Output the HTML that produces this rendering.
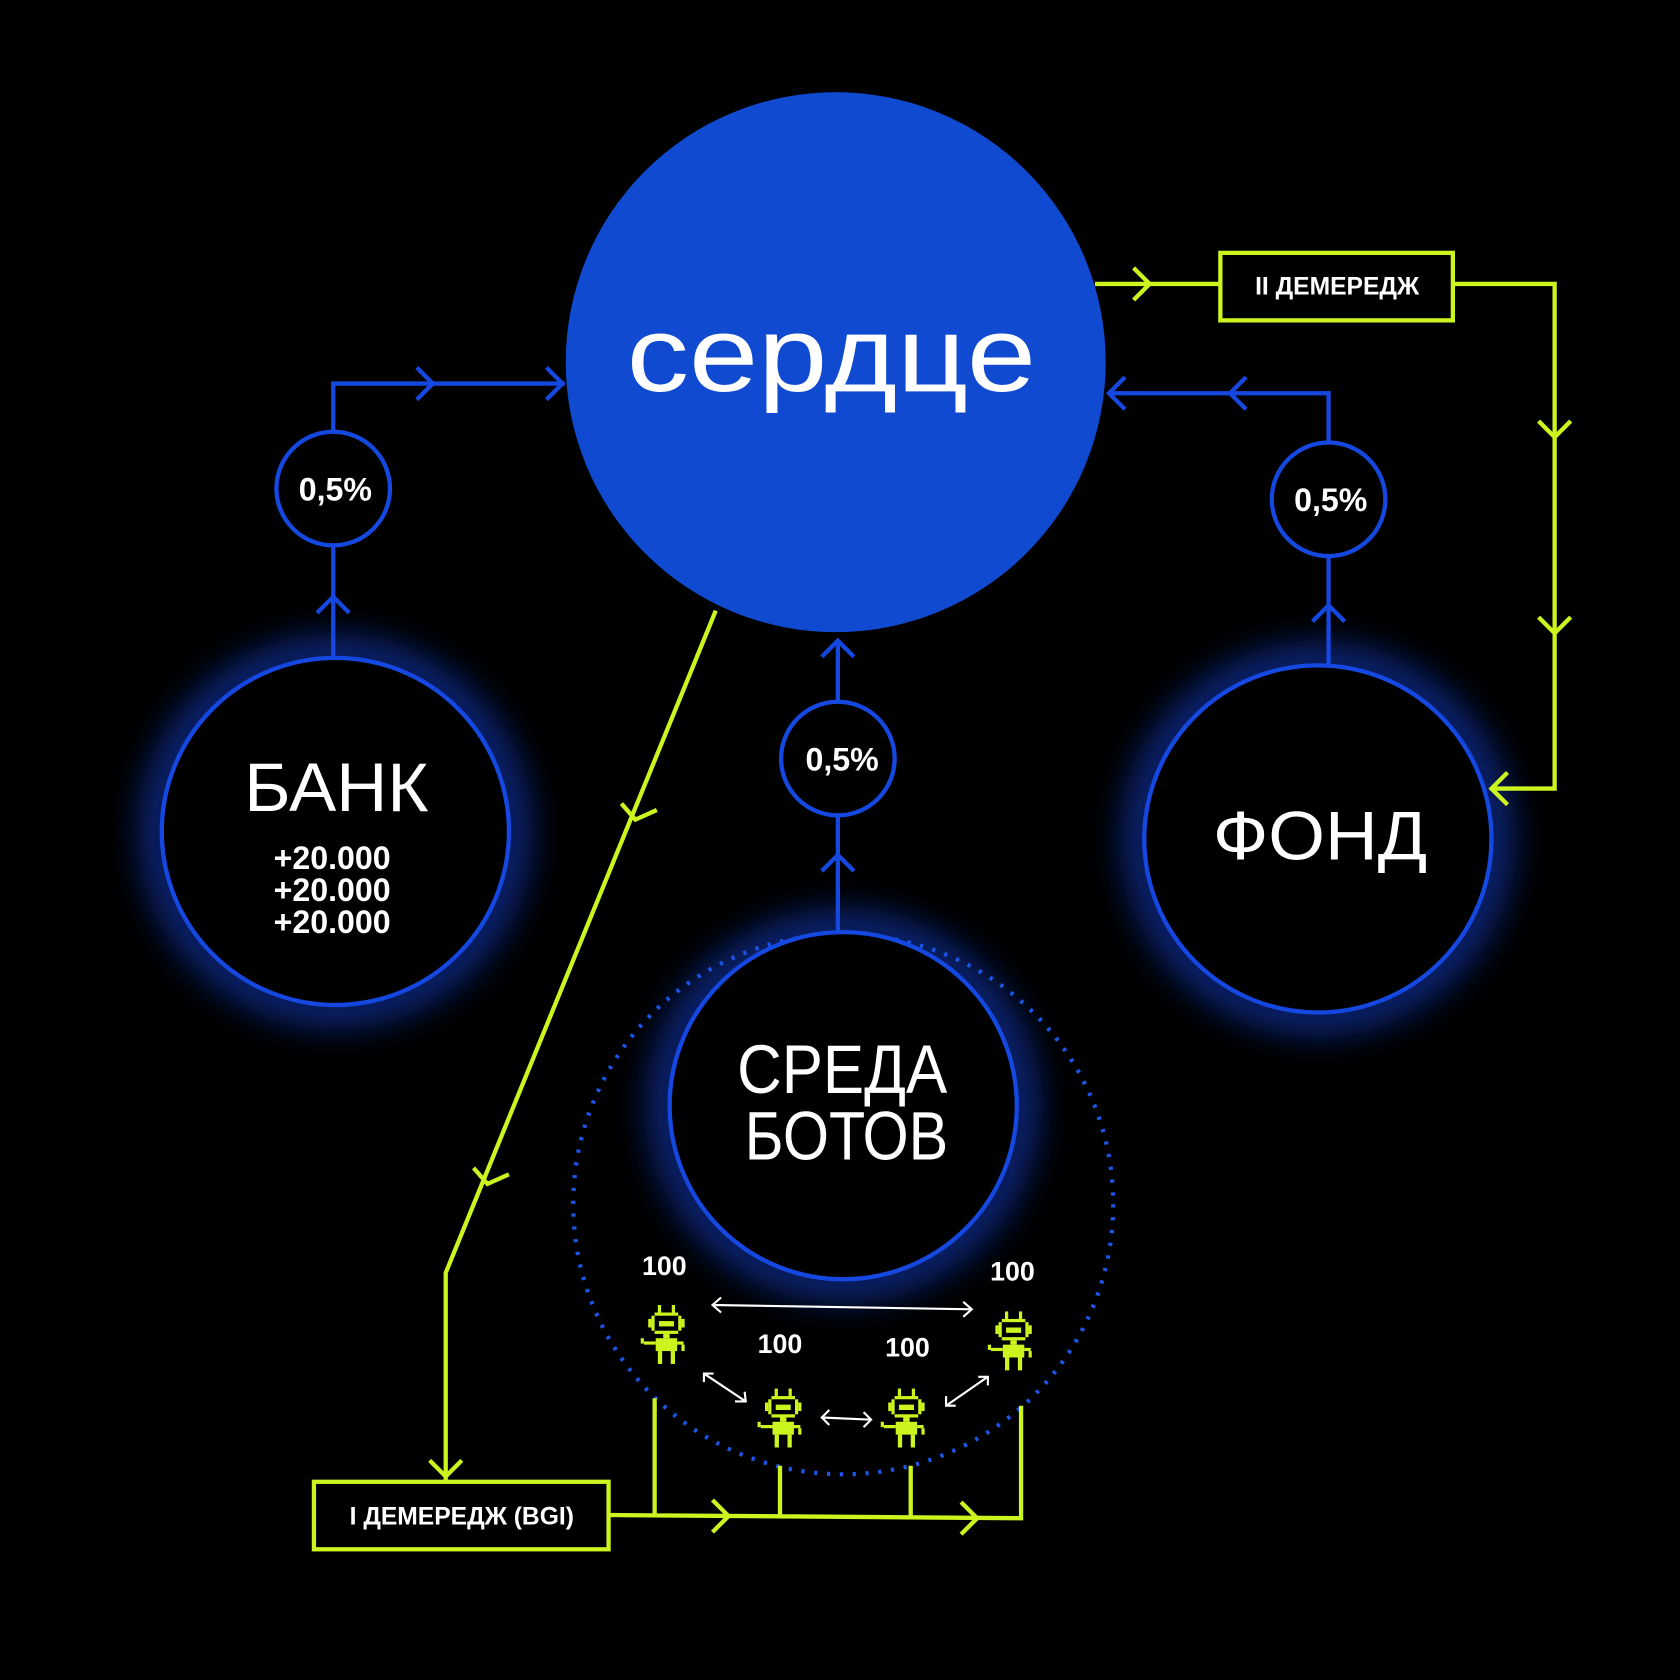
<!DOCTYPE html>
<html><head><meta charset="utf-8"><style>
html,body{margin:0;padding:0;background:#000;}
svg{display:block;}
text{font-family:"Liberation Sans",sans-serif;fill:#fff;}
</style></head><body>
<svg width="1680" height="1680" viewBox="0 0 1568 1568" xmlns="http://www.w3.org/2000/svg">
<defs>
<filter id="glow" x="-50%" y="-50%" width="200%" height="200%"><feGaussianBlur stdDeviation="18"/></filter>
<g id="robot" fill="#ccf51f">
<rect x="-8" y="-22" width="3" height="8"/><rect x="5" y="-22" width="3" height="8"/>
<rect x="-11" y="-15" width="22" height="3"/><rect x="-14" y="-12" width="3" height="14"/><rect x="11" y="-12" width="3" height="14"/>
<rect x="-17" y="-9" width="3" height="8"/><rect x="14" y="-9" width="3" height="8"/>
<rect x="-7" y="-7" width="14" height="5"/><rect x="-11" y="2" width="22" height="3"/>
<rect x="-3" y="5" width="6" height="4"/><rect x="-10" y="9" width="20" height="12"/>
<rect x="-21" y="12" width="11" height="3"/><rect x="-24" y="9" width="3" height="5"/>
<rect x="10" y="12" width="6" height="3"/><rect x="14" y="15" width="3" height="6"/>
<rect x="-8" y="21" width="4" height="12"/><rect x="4" y="21" width="4" height="12"/>
</g>
</defs>
<rect width="1568" height="1568" fill="#000"/>
<g filter="url(#glow)" fill="none" stroke="#1850ff" stroke-width="22" opacity="0.8">
<circle cx="313" cy="776" r="164"/><circle cx="1230" cy="783" r="164"/><circle cx="787" cy="1032" r="164"/>
</g>
<circle cx="787" cy="1124" r="252" fill="none" stroke="#1a55e6" stroke-width="4" stroke-dasharray="3 9"/>
<circle cx="780" cy="338" r="252" fill="#0f4ad0"/>
<text x="776" y="365" font-size="100" text-anchor="middle" textLength="382" lengthAdjust="spacingAndGlyphs">сердце</text>
<g fill="#000" stroke="#1448e0" stroke-width="4">
<circle cx="313" cy="776" r="162"/><circle cx="1230" cy="783" r="162"/><circle cx="787" cy="1032" r="162"/>
<circle cx="311" cy="456" r="53"/><circle cx="1240" cy="466" r="53"/><circle cx="782" cy="708" r="53"/>
</g>
<g font-weight="bold" font-size="30" text-anchor="middle">
<text x="313" y="467">0,5%</text><text x="1242" y="477">0,5%</text><text x="786" y="719">0,5%</text>
<text x="310" y="811">+20.000</text><text x="310" y="841">+20.000</text><text x="310" y="871">+20.000</text>
</g>
<g font-size="64" text-anchor="middle">
<text x="314" y="757" textLength="172" lengthAdjust="spacingAndGlyphs">БАНК</text>
<text x="1232" y="802" textLength="200" lengthAdjust="spacingAndGlyphs">ФОНД</text>
<text x="786" y="1020" textLength="196" lengthAdjust="spacingAndGlyphs">СРЕДА</text>
<text x="790" y="1082" textLength="190" lengthAdjust="spacingAndGlyphs">БОТОВ</text>
</g>
<g fill="none" stroke="#1448e0" stroke-width="4">
<path d="M311 403V358H527"/><path d="M389 343l15 15-15 15M510 343l15 15-15 15"/>
<path d="M311 509V614"/><path d="M296 572l15-15 15 15"/>
<path d="M1240 413V367H1035"/><path d="M1163 352l-15 15 15 15M1050 352l-15 15 15 15"/>
<path d="M1240 519V622"/><path d="M1225 580l15-15 15 15"/>
<path d="M782 655V598"/><path d="M767 613l15-15 15 15"/>
<path d="M782 761V870"/><path d="M767 813l15-15 15 15"/>
</g>
<g fill="none" stroke="#ccf51f" stroke-width="4">
<path d="M1022 265H1140"/><path d="M1058 250l15 15-15 15"/>
<rect x="1139" y="236" width="217" height="63"/>
<path d="M1356 265H1451V736H1392"/>
<path d="M1436 393l15 15 15-15M1436 576l15 15 15-15M1407 721l-15 15 15 15"/>
<path d="M668 570L416 1188V1383"/>
<path d="M580 750l13 15 20-9M442 1090l13 15 20-9M401 1363l15 15 15-15"/>
<rect x="293" y="1383" width="275" height="63"/>
<path d="M568 1414L953 1417V1312M611 1305V1414M728 1368V1415M850 1368V1416"/>
<path d="M665 1400l15 15-15 15M897 1402l15 15-15 15"/>
</g>
<g font-weight="bold" font-size="23" text-anchor="middle">
<text x="1248" y="275">II ДЕМЕРЕДЖ</text>
<text x="431" y="1423">I ДЕМЕРЕДЖ (BGI)</text>
</g>
<use href="#robot" x="622" y="1240"/><use href="#robot" x="946" y="1246"/>
<use href="#robot" x="731" y="1318"/><use href="#robot" x="846" y="1318"/>
<g font-weight="bold" font-size="25" text-anchor="middle">
<text x="620" y="1190">100</text><text x="945" y="1195">100</text>
<text x="728" y="1263">100</text><text x="847" y="1266">100</text>
</g>
<g fill="none" stroke="#fff" stroke-width="2">
<path d="M665 1218L907 1222M673 1211l-8 7 8 7M899 1215l8 7-8 7"/>
<path d="M657 1282L696 1308M657 1290l0-8 9 0M686 1308l10 0-1-9"/>
<path d="M767 1323L813 1325M774 1316l-7 7 7 7M806 1318l7 7-7 7"/>
<path d="M883 1312L922 1285M883 1303l0 9 9 0M913 1285l9 0 0 8"/>
</g>
</svg>
</body></html>
